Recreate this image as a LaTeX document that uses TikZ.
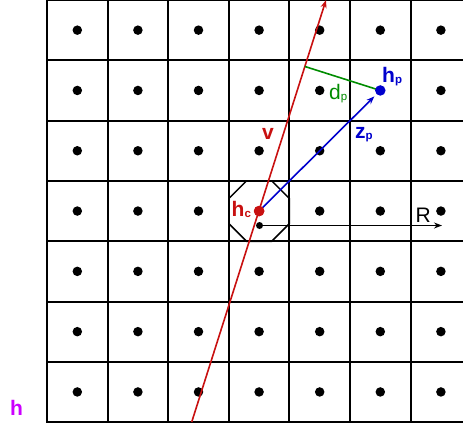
\documentclass[tikz,border=0pt]{standalone}
\usepackage{fontspec}
\setmainfont{Liberation Sans}
\usetikzlibrary{calc,arrows.meta}
\definecolor{vred}{RGB}{200,16,16}
\definecolor{hblue}{RGB}{0,0,205}
\definecolor{dgreen}{RGB}{0,140,0}
\definecolor{hmag}{RGB}{204,0,255}
\newcommand\subtx[1]{\raisebox{-1pt}{\fontsize{11.5}{11.5}\selectfont #1}}
\begin{document}
\begin{tikzpicture}[x=1pt,y=-1pt,
  gridline/.style={line width=2pt},
  gdot/.style={circle,fill=black,inner sep=0pt,minimum size=9.5pt},
  lbl/.style={anchor=base west,inner sep=0pt,font=\fontsize{21}{21}\selectfont},
  tipped/.style={-{Stealth[length=8pt,width=6pt]}},
  thin line/.style={line width=1.6pt},
]
\useasboundingbox (0,0) rectangle (463,424);
\begin{scope}
\clip (0,0) rectangle (463,424);
% grid
\foreach \i in {0,...,7} \draw[gridline] ({47+60.6*\i},0) -- ({47+60.6*\i},422.1);
\foreach \j in {0,...,7} \draw[gridline] (46,{60.3*\j}) -- (480,{60.3*\j});
% dots
\foreach \i in {0,...,6} \foreach \j in {0,...,6} {
  \pgfmathtruncatemacro\k{\i*10+\j}
  \ifnum\k=33 \else \ifnum\k=51 \else
    \node[gdot] (g\i\j) at ({47+60.6*(\i+0.5)},{60.3*(\j+0.5)}) {};
  \fi\fi
}
\coordinate (hcc) at (259.1,211.05);
\coordinate (hpc) at (380.3,90.45);
% octagon
\draw[line width=1.5pt] ($(hcc)+(22.5:32.75)$)
  \foreach \a in {67.5,112.5,157.5,202.5,247.5,292.5,337.5} { -- ($(hcc)+(\a:32.75)$) } -- cycle;
% R arrow
\node[circle,fill=black,inner sep=0pt,minimum size=7pt] (rs) at (259.5,225.5) {};
\coordinate (re) at (442,225.5);
\draw[line width=1.7pt,tipped] (rs.center) -- (re);
% v line
\coordinate (vb) at ($(hcc)+(-67.4,211)$);
\coordinate (vt) at ($(hcc)+(66.9,-211)$);
\draw[vred,thin line,tipped] (vb) -- (vt);
% d_p
\coordinate (ft) at ($(vb)!(hpc)!(vt)$);
\draw[dgreen,thin line] (ft) -- (hpc);
% main dots
\node[circle,fill=vred,inner sep=0pt,minimum size=10.5pt] (hc) at (hcc) {};
\node[circle,fill=hblue,inner sep=0pt,minimum size=10.5pt] (hp) at (hpc) {};
\draw[hblue,thin line,tipped,shorten >=3pt] (hc.center) -- (hp);
\node[circle,fill=vred,inner sep=0pt,minimum size=10.5pt] at (hcc) {};
% labels
\node[lbl,vred] (lhc) at (231.5,216.7) {\bfseries h\subtx{c}};
\node[lbl,hblue] (lhp) at (382,82.7) {\bfseries h\subtx{p}};
\node[lbl,dgreen] (ldp) at (329,99.3) {d\subtx{p}};
\node[lbl,hblue] (lzp) at (355,138.3) {\bfseries z\subtx{p}};
\node[lbl,vred] (lv) at (262,139) {\bfseries v};
\node[lbl] (lR) at (415.5,222.3) {R};
\node[lbl,hmag] (lh) at (10,415) {\bfseries h};
\end{scope}
\end{tikzpicture}
\end{document}
